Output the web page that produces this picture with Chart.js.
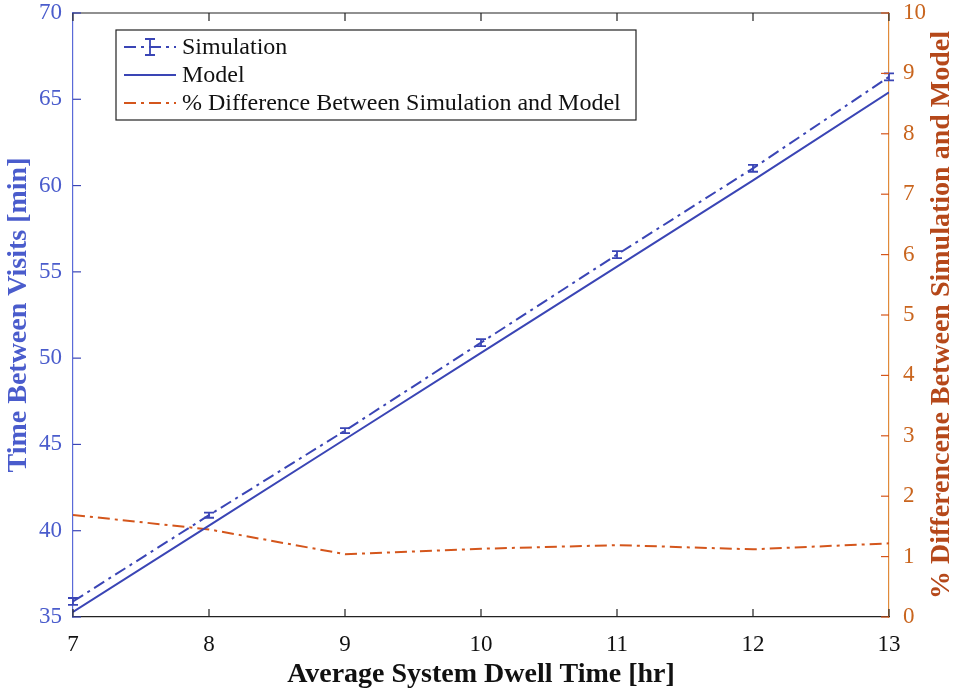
<!DOCTYPE html>
<html>
<head>
<meta charset="utf-8">
<script src="https://cdn.jsdelivr.net/npm/chart.js@4"></script>
<style>
  html, body { margin: 0; padding: 0; background: #fff; }
  #wrap { width: 959px; height: 692px; }
</style>
</head>
<body>
<div id="wrap"><canvas id="chart" width="959" height="692"></canvas></div>
<script>
// data
var dwellHours = [7, 8, 9, 10, 11, 12, 13];
var simTime = [35.9, 40.9, 45.8, 50.9, 56.0, 61.0, 66.3];
var simErr = [0.2, 0.15, 0.15, 0.2, 0.2, 0.2, 0.2];
var modelTime = [35.3, 40.3, 45.3, 50.3, 55.3, 60.3, 65.4];
var pctDiff = [1.69, 1.45, 1.04, 1.13, 1.19, 1.12, 1.22];

var blue = '#3a45b5';
var blueText = '#4a5ccc';
var orange = '#d4561c';
var orangeText = '#c9651e';
var serif = '"Liberation Serif", "DejaVu Serif", serif';
var rightTitle = '% Differencene Between Simulation and Model';

function pts(ys) {
  return dwellHours.map(function (x, i) { return { x: x, y: ys[i] }; });
}

// error bars, inner ticks, top border, right title and legend box
var extras = {
  id: 'extras',
  afterDatasetsDraw: function (chart) {
    var c = chart.ctx, a = chart.chartArea;
    var xs = chart.scales.x, yl = chart.scales.y, yr = chart.scales.y2;
    c.save();
    // error bars
    c.strokeStyle = blue;
    c.lineWidth = 1.8;
    dwellHours.forEach(function (h, i) {
      var px = xs.getPixelForValue(h);
      var top = yl.getPixelForValue(simTime[i] + simErr[i]);
      var bot = yl.getPixelForValue(simTime[i] - simErr[i]);
      c.beginPath();
      c.moveTo(px, top); c.lineTo(px, bot);
      c.moveTo(px - 5, top); c.lineTo(px + 5, top);
      c.moveTo(px - 5, bot); c.lineTo(px + 5, bot);
      c.stroke();
    });
    // top border
    c.strokeStyle = '#222';
    c.lineWidth = 1.2;
    c.beginPath();
    c.moveTo(a.left, a.top); c.lineTo(a.right, a.top);
    c.stroke();
    // x ticks (bottom and top, inward)
    xs.ticks.forEach(function (t) {
      var px = xs.getPixelForValue(t.value);
      c.beginPath();
      c.moveTo(px, a.bottom); c.lineTo(px, a.bottom - 8);
      c.moveTo(px, a.top); c.lineTo(px, a.top + 8);
      c.stroke();
    });
    // left ticks
    c.strokeStyle = blue;
    yl.ticks.forEach(function (t) {
      var py = yl.getPixelForValue(t.value);
      c.beginPath(); c.moveTo(a.left, py); c.lineTo(a.left + 8, py); c.stroke();
    });
    // right ticks
    c.strokeStyle = orange;
    yr.ticks.forEach(function (t) {
      var py = yr.getPixelForValue(t.value);
      c.beginPath(); c.moveTo(a.right, py); c.lineTo(a.right - 8, py); c.stroke();
    });
    // right axis title, reading bottom to top
    c.save();
    c.translate(942, (a.top + a.bottom) / 2);
    c.rotate(-Math.PI / 2);
    c.font = 'bold 28px ' + serif;
    c.fillStyle = '#b5481a';
    c.textAlign = 'center';
    c.textBaseline = 'middle';
    c.fillText(rightTitle, 0, 0);
    c.restore();
    // legend
    var lx = 116, ly = 30, lw = 520, lh = 90;
    c.fillStyle = '#fff';
    c.fillRect(lx, ly, lw, lh);
    c.strokeStyle = '#222';
    c.lineWidth = 1.2;
    c.strokeRect(lx, ly, lw, lh);
    var rows = [
      { label: 'Simulation', color: blue, dash: [12, 5, 3, 5], err: true },
      { label: 'Model', color: blue, dash: [] },
      { label: '% Difference Between Simulation and Model', color: orange, dash: [12, 5, 3, 5] }
    ];
    c.font = '24px ' + serif;
    c.textBaseline = 'middle';
    rows.forEach(function (r, i) {
      var yy = ly + 17 + i * 28;
      c.strokeStyle = r.color;
      c.lineWidth = 2;
      c.setLineDash(r.dash);
      c.beginPath(); c.moveTo(124, yy); c.lineTo(176, yy); c.stroke();
      c.setLineDash([]);
      if (r.err) {
        c.lineWidth = 1.8;
        c.beginPath();
        c.moveTo(150, yy - 8); c.lineTo(150, yy + 8);
        c.moveTo(145, yy - 8); c.lineTo(155, yy - 8);
        c.moveTo(145, yy + 8); c.lineTo(155, yy + 8);
        c.stroke();
      }
      c.fillStyle = '#111';
      c.fillText(r.label, 182, yy + 1);
    });
    c.restore();
  }
};

function noPad(s) {
  s.paddingTop = 0; s.paddingBottom = 0;
  s.paddingLeft = 0; s.paddingRight = 0;
}

new Chart(document.getElementById('chart').getContext('2d'), {
  type: 'line',
  data: {
    datasets: [
      {
        label: 'Simulation',
        data: pts(simTime),
        borderColor: blue,
        borderWidth: 2,
        borderDash: [12, 5, 3, 5],
        pointRadius: 0,
        yAxisID: 'y'
      },
      {
        label: 'Model',
        data: pts(modelTime),
        borderColor: blue,
        borderWidth: 2,
        pointRadius: 0,
        yAxisID: 'y'
      },
      {
        label: '% Difference Between Simulation and Model',
        data: pts(pctDiff),
        borderColor: orange,
        borderWidth: 2,
        borderDash: [12, 5, 3, 5],
        pointRadius: 0,
        yAxisID: 'y2'
      }
    ]
  },
  options: {
    responsive: false,
    animation: false,
    layout: { padding: { top: 13, bottom: 0, left: 0, right: 0 } },
    plugins: {
      legend: { display: false },
      tooltip: { enabled: false }
    },
    scales: {
      x: {
        type: 'linear',
        min: 7,
        max: 13,
        ticks: { stepSize: 1, color: '#111', font: { family: serif, size: 23 }, padding: 6 },
        grid: { display: false },
        border: { display: true, color: '#222', width: 1.2 },
        title: {
          display: true,
          text: 'Average System Dwell Time [hr]',
          color: '#111',
          font: { family: serif, size: 28, weight: 'bold' },
          padding: { top: 0, bottom: 0 }
        },
        afterFit: function (s) { s.height = 75; noPad(s); }
      },
      y: {
        position: 'left',
        min: 35,
        max: 70,
        ticks: { stepSize: 5, color: blueText, font: { family: serif, size: 23 }, padding: 3 },
        grid: { display: false },
        border: { display: true, color: '#5a6ad8', width: 1.2 },
        title: {
          display: true,
          text: 'Time Between Visits [min]',
          color: blueText,
          font: { family: serif, size: 28, weight: 'bold' },
          padding: { top: 2, bottom: 0 }
        },
        afterFit: function (s) { s.width = 73; noPad(s); }
      },
      y2: {
        position: 'right',
        min: 0,
        max: 10,
        ticks: { stepSize: 1, color: orangeText, font: { family: serif, size: 23 }, padding: 6 },
        grid: { display: false },
        border: { display: true, color: '#e08a3a', width: 1.2 },
        title: { display: false },
        afterFit: function (s) { s.width = 70; noPad(s); }
      }
    }
  },
  plugins: [extras]
});
</script>
</body>
</html>
